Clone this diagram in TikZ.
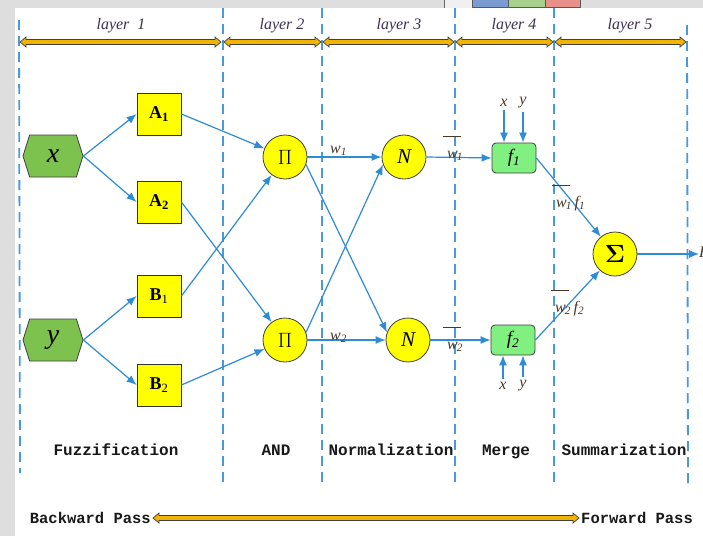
\documentclass[tikz,border=0pt]{standalone}
\usepackage{fontspec}
\setmainfont{Liberation Serif}
\newfontfamily\capfont{Liberation Mono}
\usetikzlibrary{arrows.meta,shapes.symbols}

\definecolor{linkblue}{HTML}{2E8BD6}
\definecolor{dashblue}{HTML}{4A9ADB}
\definecolor{bargold}{HTML}{F2B400}
\definecolor{nodeyellow}{HTML}{FFFF00}
\definecolor{hexgreen}{HTML}{7DC24E}
\definecolor{boxgreen}{HTML}{80F080}
\definecolor{labtext}{HTML}{4A3728}
\definecolor{layertext}{HTML}{3C3050}
\definecolor{tabblue}{HTML}{7B9BD0}
\definecolor{tabgreen}{HTML}{A8D08D}
\definecolor{tabred}{HTML}{E8908A}

% double-headed gold bar: x-start, x-end, y
\newcommand{\goldbar}[3]{%
  \filldraw[fill=bargold, draw=black!75, line width=0.7pt]
    (#1,#3) -- (#1+6,#3-5) -- (#1+6,#3-2.5) -- (#2-6,#3-2.5) -- (#2-6,#3-5)
    -- (#2,#3) -- (#2-6,#3+5) -- (#2-6,#3+2.5) -- (#1+6,#3+2.5) -- (#1+6,#3+5) -- cycle;}

% normalised weight with a raised bar
\newcommand{\wbar}[1]{\leavevmode\rlap{\kern1pt\rule[21pt]{18pt}{1.3pt}}\kern5pt\textit{w}\kern-1pt\textsubscript{\itshape #1}}

\begin{document}
\begin{tikzpicture}[x=1pt,y=-1pt,
  hexnode/.style={signal, signal to=east and west, signal pointer angle=145,
    draw=black!75, line width=0.8pt, fill=hexgreen, minimum width=60pt,
    minimum height=42pt, inner sep=0pt, font=\fontsize{28}{28}\selectfont\itshape},
  memb/.style={draw=black!80, line width=0.8pt, fill=nodeyellow, minimum width=44pt,
    minimum height=42pt, inner sep=0pt, font=\fontsize{18}{18}\selectfont\bfseries},
  opnode/.style={circle, draw=black!75, line width=0.8pt, fill=nodeyellow,
    minimum size=44pt, inner sep=0pt, font=\fontsize{21}{21}\selectfont},
  fnode/.style={rounded corners=4pt, draw=black!75, line width=0.8pt, fill=boxgreen,
    minimum width=44pt, minimum height=30pt, inner sep=0pt,
    font=\fontsize{19}{19}\selectfont\itshape},
  link/.style={draw=linkblue, line width=1.2pt, -{Latex[length=10pt,width=8pt]}},
  sep/.style={draw=dashblue, line width=1.8pt, dash pattern=on 10pt off 6pt},
  lab/.style={text=labtext, font=\fontsize{16}{16}\selectfont\itshape, inner sep=0pt},
  phase/.style={font=\capfont\bfseries\fontsize{16}{16}\selectfont, text=black!90, inner sep=0pt, anchor=base},
  layerlab/.style={text=layertext, font=\fontsize{16}{16}\selectfont\itshape, inner sep=0pt}]

\useasboundingbox (0,0) rectangle (703,536);

% page and window frame
\fill[white] (0,0) rectangle (703,536);
\fill[black!13] (0,0) rectangle (703,8);
\fill[black!13] (0,0) rectangle (15,536);
\fill[black!6] (445,0) rectangle (472,8);
\draw[black!60, line width=0.8pt] (444,0) -- (444,8);
\filldraw[fill=tabblue, draw=black!65, line width=0.6pt] (472,-1) rectangle (508,7);
\filldraw[fill=tabgreen, draw=black!65, line width=0.6pt] (508,-1) rectangle (545,7);
\filldraw[fill=tabred, draw=black!65, line width=0.6pt] (545,-1) rectangle (580,7);

% layer separators
\draw[sep] (19,20) -- (20,473);
\draw[sep] (223,8) -- (223,485);
\draw[sep] (322,8) -- (322,485);
\draw[sep] (455,8) -- (455,485);
\draw[sep] (554,8) -- (554,485);
\draw[sep] (687,25) -- (688,483);

% layer headers
\goldbar{20}{221}{42}
\goldbar{224}{321}{42}
\goldbar{323}{454}{42}
\goldbar{456}{553}{42}
\goldbar{555}{686}{42}
\node[layerlab] (l1) at (121,26) {layer\ \ 1};
\node[layerlab] (l2) at (282,26) {layer 2};
\node[layerlab] (l3) at (399,26) {layer 3};
\node[layerlab] (l4) at (514,26) {layer 4};
\node[layerlab] (l5) at (630,26) {layer 5};

% inputs
\node[hexnode] (x) at (53,156) {x};
\node[hexnode] (y) at (53,340) {y};

% membership functions
\node[memb] (A1) at (159,114) {A\textsubscript{1}};
\node[memb] (A2) at (159,202) {A\textsubscript{2}};
\node[memb] (B1) at (159,296) {B\textsubscript{\mdseries 1}};
\node[memb] (B2) at (159,385) {B\textsubscript{\mdseries 2}};

% rule, normalisation and output nodes
\node[opnode] (P1) at (285,157) {$\Pi$};
\node[opnode] (P2) at (285,340) {$\Pi$};
\node[opnode] (N1) at (404,157) {\itshape N};
\node[opnode] (N2) at (408,340) {\itshape N};
\node[fnode] (f1) at (514,158) {f\textsubscript{1}};
\node[fnode] (f2) at (513,340) {f\textsubscript{2}};
\node[opnode, font=\fontsize{28}{28}\selectfont\boldmath] (S) at (615,254) {$\Sigma$};

% connections
\draw[link] (x.east) -- (A1.west);
\draw[link] (x.east) -- (A2.west);
\draw[link] (y.east) -- (B1.west);
\draw[link] (y.east) -- (B2.west);
\draw[link] (A1.east) -- (P1);
\draw[link] (B1.east) -- (P1);
\draw[link] (A2.east) -- (P2);
\draw[link] (B2.east) -- (P2);
\draw[link] (P1.east) -- (N1.west);
\draw[link] (P2.east) -- (N2.west);
\draw[link] (P1.-20) -- (N2.160);
\draw[link] (P2.20) -- (N1.200);
\draw[link] (N1.east) -- (f1.west);
\draw[link] (N2.east) -- (f2.west);
\draw[link] (f1.east) -- (S);
\draw[link] (f2.east) -- (S);
\coordinate (out) at (699,254);
\draw[link] (S.east) -- (out);
\node[lab, anchor=west] (F) at (699,252) {F};

% premise inputs of the consequent nodes
\node[lab] (fx1) at (504,103) {x};
\node[lab] (fy1) at (523,103) {y};
\node[lab] (fx2) at (503,386) {x};
\node[lab] (fy2) at (523,386) {y};
\draw[link] (fx1.south) ++(0,3) -- (fx1.south |- f1.north);
\draw[link] (fy1.south) ++(0,3) -- (fy1.south |- f1.north);
\draw[link] (fx2.north) ++(0,-3) -- (fx2.north |- f2.south);
\draw[link] (fy2.north) ++(0,-3) -- (fy2.north |- f2.south);

% signal labels
\node[lab, anchor=base west] (w1) at (330,153) {w\textsubscript{1}};
\node[lab, anchor=base west] (w2) at (330,340) {w\textsubscript{2}};
\node[lab, anchor=base west] (wb1) at (442,158) {\wbar{1}};
\node[lab, anchor=base west] (wb2) at (442,349) {\wbar{2}};
\node[lab, anchor=base west] (wf1) at (551,207) {\wbar{1}\,f\textsubscript{1}};
\node[lab, anchor=base west] (wf2) at (550,312) {\wbar{2}\,f\textsubscript{2}};

% phase names
\node[phase] (ph1) at (116,455) {Fuzzification};
\node[phase] (ph2) at (276,455) {AND};
\node[phase] (ph3) at (391,455) {Normalization};
\node[phase] (ph4) at (506,455) {Merge};
\node[phase] (ph5) at (624,455) {Summarization};

% pass directions
\node[phase, anchor=base east, font=\capfont\bfseries\fontsize{15.5}{15.5}\selectfont] (bw) at (151,523) {Backward Pass};
\node[phase, anchor=base west, font=\capfont\bfseries\fontsize{15.5}{15.5}\selectfont] (fw) at (581,523) {Forward Pass};
\goldbar{153}{579}{518}

\end{tikzpicture}
\end{document}
